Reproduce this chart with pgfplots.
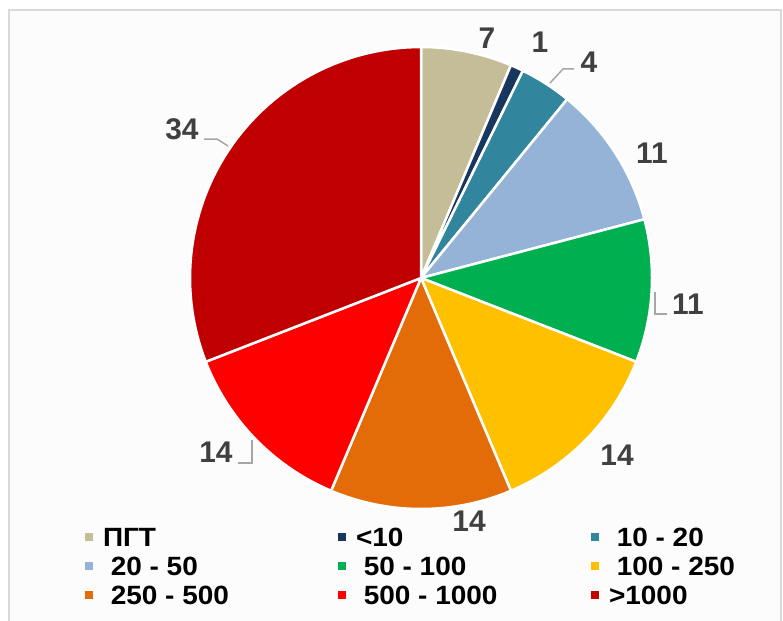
\documentclass[border=0pt]{standalone}
\usepackage{pgfplots}
\pgfplotsset{compat=1.18}
\usepackage{fontspec}
\setmainfont{Liberation Sans}
\newfontfamily\legfam{Liberation Sans}[FakeStretch=1.06]

\definecolor{cPGT}{HTML}{C4BD97}
\definecolor{cA}{HTML}{17375E}
\definecolor{cB}{HTML}{31859C}
\definecolor{cC}{HTML}{95B3D7}
\definecolor{cD}{HTML}{00B050}
\definecolor{cE}{HTML}{FFC000}
\definecolor{cF}{HTML}{E36C09}
\definecolor{cG}{HTML}{FF0000}
\definecolor{cH}{HTML}{C00000}
\definecolor{labgray}{HTML}{404040}
\definecolor{leadgray}{HTML}{A6A6A6}
\definecolor{framegray}{HTML}{D9D9D9}
\definecolor{bggray}{HTML}{FCFCFC}

% one slice: value, values before it, colour (total 110, clockwise from top)
\newcommand{\slice}[3]{%
  \addplot[fill=#3, draw=white, line width=2.5bp, line join=round,
    domain=90-360*(#2+#1)/110:90-360*#2/110, samples=60]
    ({421+231*cos(x)}, {278-231*sin(x)}) -- (axis cs:421,278) -- cycle;}
\newcommand{\lbox}[1]{\makebox[235bp][l]{#1}}
\newcommand{\labfont}{\fontsize{30}{30}\selectfont\bfseries}
\newcommand{\legfont}{\legfam\fontsize{26.5}{26.5}\selectfont\bfseries}

\begin{document}
\begin{tikzpicture}
\begin{axis}[
    scale only axis, width=783bp, height=621bp,
    xmin=0, xmax=783, ymin=0, ymax=621, y dir=reverse,
    hide axis, clip=false,
    legend image code/.code={\fill[#1,draw=none] (0bp,5bp) rectangle (8bp,13bp);},
    legend columns=3,
    legend style={at={(axis cs:85,527)}, anchor=north west, draw=none, fill=none,
      inner sep=0pt, outer sep=0pt, font=\legfont, row sep=4bp,
      cells={anchor=base west},
      nodes={inner sep=0pt, text height=19bp, text depth=6bp},
      /tikz/every odd column/.style={column sep=10bp},
      /tikz/every even column/.style={column sep=0bp}},
]
\fill[bggray] (axis cs:9,10) rectangle (axis cs:781,621);
\draw[framegray, line width=2bp] (axis cs:9,621) -- (axis cs:9,10) -- (axis cs:781,10) -- (axis cs:781,621);

\slice{7}{0}{cPGT}    \addlegendentry{\lbox{ПГТ}}
\slice{1}{7}{cA}      \addlegendentry{\lbox{<10}}
\slice{4}{8}{cB}      \addlegendentry{\ 10 - 20}
\slice{11}{12}{cC}    \addlegendentry{\lbox{\ 20 - 50}}
\slice{11}{23}{cD}    \addlegendentry{\lbox{\ 50 - 100}}
\slice{14}{34}{cE}    \addlegendentry{\ 100 - 250}
\slice{14}{48}{cF}    \addlegendentry{\lbox{\ 250 - 500}}
\slice{14}{62}{cG}    \addlegendentry{\lbox{\ 500 - 1000}}
\slice{34}{76}{cH}    \addlegendentry{>1000}

% leader lines
\draw[leadgray, line width=1.5bp] (axis cs:550,83) -- (axis cs:563,69) -- (axis cs:574,69);
\draw[leadgray, line width=1.5bp] (axis cs:655,292) -- (axis cs:655,314) -- (axis cs:667,314);
\draw[leadgray, line width=1.5bp] (axis cs:238,463) -- (axis cs:252,463) -- (axis cs:252,440);
\draw[leadgray, line width=1.5bp] (axis cs:204,139) -- (axis cs:217,139) -- (axis cs:228,146);

% value labels
\begin{scope}[every node/.style={font=\labfont, text=labgray, inner sep=0pt}]
\node at (axis cs:487,38) {7};
\node at (axis cs:540,42) {1};
\node at (axis cs:589,62) {4};
\node at (axis cs:652,153) {11};
\node at (axis cs:688,304) {11};
\node at (axis cs:617,455) {14};
\node at (axis cs:469,521) {14};
\node at (axis cs:216,452) {14};
\node at (axis cs:182,129) {34};
\end{scope}
\end{axis}
\pgfresetboundingbox
\path[use as bounding box] (current axis.south west) rectangle (current axis.north east);
\end{tikzpicture}
\end{document}
